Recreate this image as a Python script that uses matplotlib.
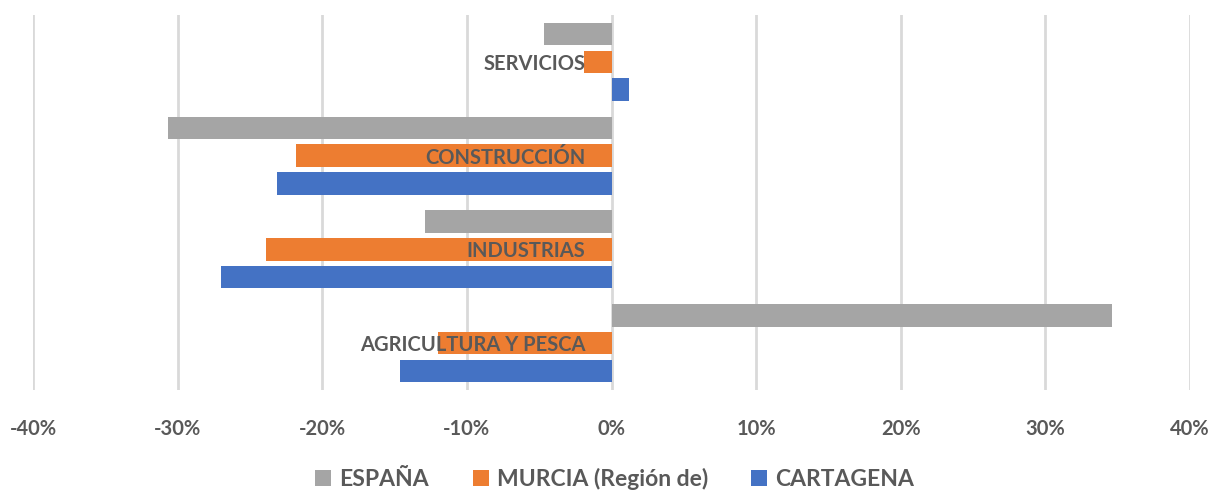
import matplotlib.pyplot as plt
import numpy as np
from matplotlib.ticker import FuncFormatter

plt.rcParams['font.family'] = ['Lato', 'DejaVu Sans']

sectores = ['AGRICULTURA Y PESCA', 'INDUSTRIAS', 'CONSTRUCCIÓN', 'SERVICIOS']
espana = [34.6, -12.9, -30.7, -4.7]
murcia = [-12.0, -23.9, -21.8, -1.9]
cartagena = [-14.6, -27.0, -23.1, 1.2]

series = [
    ('ESPAÑA', espana, '#a5a5a5', 0.295),
    ('MURCIA (Región de)', murcia, '#ed7d31', 0.0),
    ('CARTAGENA', cartagena, '#4472c4', -0.295),
]

fig = plt.figure(figsize=(12.15, 4.9), dpi=100)
ax = fig.add_axes([33 / 1215, 1 - 390 / 490, (1190 - 33) / 1215, 375 / 490])

y = np.arange(len(sectores))
for name, vals, color, off in series:
    ax.barh(y + off, vals, height=0.24, color=color, label=name, zorder=2)

ax.set_xlim(-40, 40)
ax.set_ylim(-0.5, 3.5)
ax.set_xticks(np.arange(-40, 41, 10))
ax.xaxis.set_major_formatter(FuncFormatter(lambda v, p: f'{v:.0f}%'))
ax.grid(axis='x', color='#d9d9d9', linewidth=2, zorder=0)
ax.set_yticks([])
for s in ax.spines.values():
    s.set_visible(False)
ax.tick_params(axis='x', length=0, pad=21, labelsize=14.5, labelcolor='#595959')
for lab in ax.get_xticklabels():
    lab.set_fontweight('bold')

# nombres de sector junto al eje 0
for i, name in enumerate(sectores):
    ax.text(-1.8, i - 0.02, name, ha='right', va='center', fontsize=14.5,
            fontweight='bold', color='#595959', zorder=3)

leg = fig.legend(loc='center', bbox_to_anchor=(0.506, 1 - 479 / 490), ncol=3,
                 frameon=False, fontsize=16.5, handlelength=0.7, handleheight=0.7,
                 handletextpad=0.35, columnspacing=1.9)
for t in leg.get_texts():
    t.set_color('#595959')
    t.set_fontweight('bold')

fig.savefig('out.png', dpi=100)
